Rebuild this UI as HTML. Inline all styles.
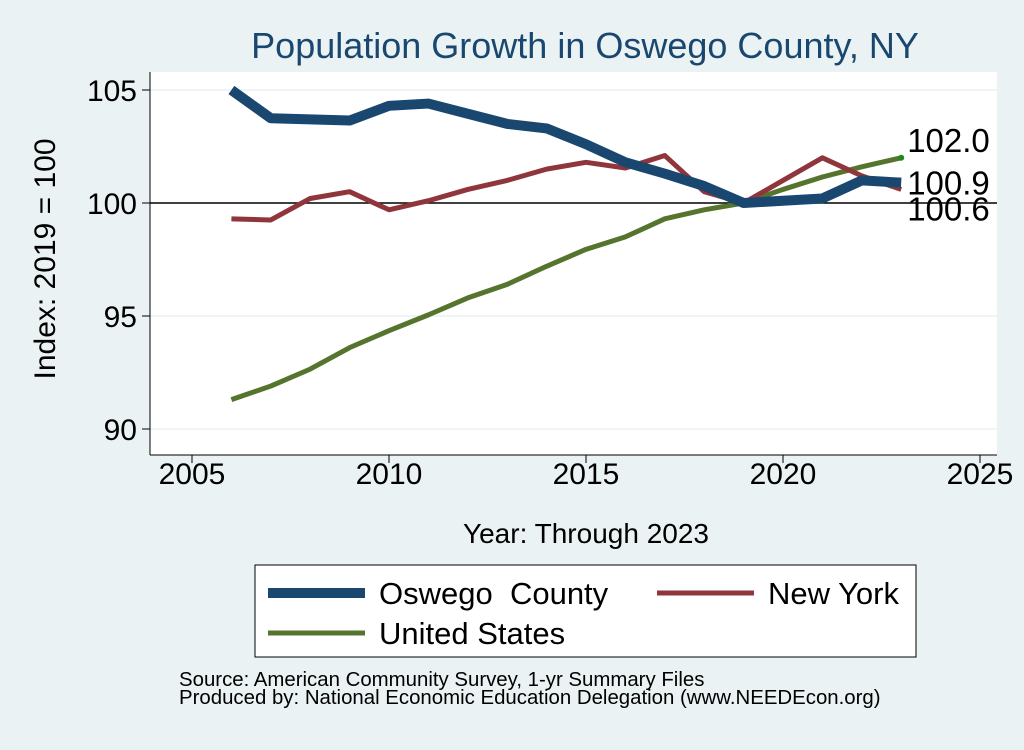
<!DOCTYPE html>
<html><head><meta charset="utf-8"><style>
body{margin:0;background:#eaf2f3;}
svg text{font-family:"Liberation Sans",sans-serif;}
</style></head><body>
<svg width="1024" height="745" viewBox="0 0 1024 745" xmlns="http://www.w3.org/2000/svg">
<rect x="0" y="0" width="1024" height="745" fill="#eaf2f3"/>
<text x="585" y="58" font-size="36" fill="#1a476f" text-anchor="middle">Population Growth in Oswego County, NY</text>
<rect x="150" y="72" width="847" height="383" fill="#fff"/>
<g id="grid"></g>
<g id="axes"></g>
<g id="series"></g>
<g id="labels"></g>
<text x="55" y="259" font-size="30" text-anchor="middle" transform="rotate(-90 55 259)">Index: 2019 = 100</text>
<text x="586" y="543" font-size="28" text-anchor="middle">Year: Through 2023</text>
<g>
<rect x="255" y="565" width="661" height="92" fill="#fff" stroke="#000" stroke-width="1"/>
<g><line x1="268" y1="593" x2="365" y2="593" stroke="#1a476f" stroke-width="10"/><text x="379" y="604" font-size="31" xml:space="preserve">Oswego  County</text></g>
<g><line x1="657" y1="593" x2="754" y2="593" stroke="#90353b" stroke-width="5"/><text x="768" y="604" font-size="31">New York</text></g>
<g><line x1="268" y1="633" x2="365" y2="633" stroke="#55752f" stroke-width="5"/><text x="379" y="644" font-size="31">United States</text></g>
</g>
<text x="179" y="686" font-size="20.4">Source: American Community Survey, 1-yr Summary Files</text>
<text x="179" y="704" font-size="20.4">Produced by: National Economic Education Delegation (www.NEEDEcon.org)</text>
</svg>
<script>
const years=[2006,2007,2008,2009,2010,2011,2012,2013,2014,2015,2016,2017,2018,2019,2020,2021,2022,2023];
const oswego=[105.0,103.75,103.7,103.65,104.3,104.4,103.95,103.5,103.3,102.6,101.8,101.3,100.75,100.0,100.1,100.2,101.0,100.9];
const newYork=[99.3,99.25,100.2,100.5,99.7,100.1,100.6,101.0,101.5,101.8,101.55,102.1,100.5,100.0,101.0,102.0,101.2,100.6];
const us=[91.3,91.9,92.65,93.6,94.35,95.05,95.8,96.4,97.2,97.95,98.5,99.3,99.7,100.0,100.6,101.15,101.6,102.0];
const xTicks=[2005,2010,2015,2020,2025];
const yTicks=[90,95,100,105];
const endLabels=["100.9","100.6","102.0"];
const NS="http://www.w3.org/2000/svg";
const X=v=>192+(v-2005)*39.4;
const Y=v=>203-(v-100)*22.6;
function mk(tag,attrs,parent){const e=document.createElementNS(NS,tag);for(const k in attrs)e.setAttribute(k,attrs[k]);document.getElementById(parent).appendChild(e);return e;}
yTicks.forEach(t=>{
 const g=mk('line',{x1:150,x2:997,y1:Y(t),y2:Y(t),stroke:t===100?'#000':'#eaf2f3','stroke-width':1.5},'grid');
 
 
 const tk=mk('line',{x1:142,x2:150,y1:Y(t),y2:Y(t),stroke:'#000','stroke-width':1},'axes');
 
 
 const tx=mk('text',{x:137,y:Y(t)+11,'font-size':30,'text-anchor':'end'},'axes');tx.textContent=t;
 
 
});
xTicks.forEach(t=>{
 const tk=mk('line',{x1:X(t),x2:X(t),y1:455,y2:463,stroke:'#000','stroke-width':1},'axes');
 
 
 const tx=mk('text',{x:X(t),y:484,'font-size':30,'text-anchor':'middle'},'axes');tx.textContent=t;
 
 
});
const ya=mk('line',{x1:150,x2:150,y1:72,y2:455,stroke:'#000','stroke-width':1},'axes');


const xa=mk('line',{x1:150,x2:997,y1:455,y2:455,stroke:'#000','stroke-width':1},'axes');


function line(vals,color,w,name){
 const p=mk('polyline',{points:vals.map((v,i)=>X(years[i])+','+Y(v)).join(' '),fill:'none',stroke:color,'stroke-width':w,'stroke-linejoin':'round'},'series');
 
 
}
line(us,'#55752f',5,'line-united-states');
line(newYork,'#90353b',5,'line-new-york');
line(oswego,'#1a476f',10,'line-oswego-county');
const last=years[years.length-1];
const dot=mk('circle',{cx:X(last),cy:Y(us[us.length-1]),r:3,fill:'#1a8a1a'},'series');


const lab=[[oswego,endLabels[0],12],[newYork,endLabels[1],31],[us,endLabels[2],-6]];
lab.forEach(([s,t,dy])=>{
 const tx=mk('text',{x:X(last)+6,y:Y(s[s.length-1])+dy,'font-size':33},'labels');tx.textContent=t;
 
 
});
</script>
</body></html>
